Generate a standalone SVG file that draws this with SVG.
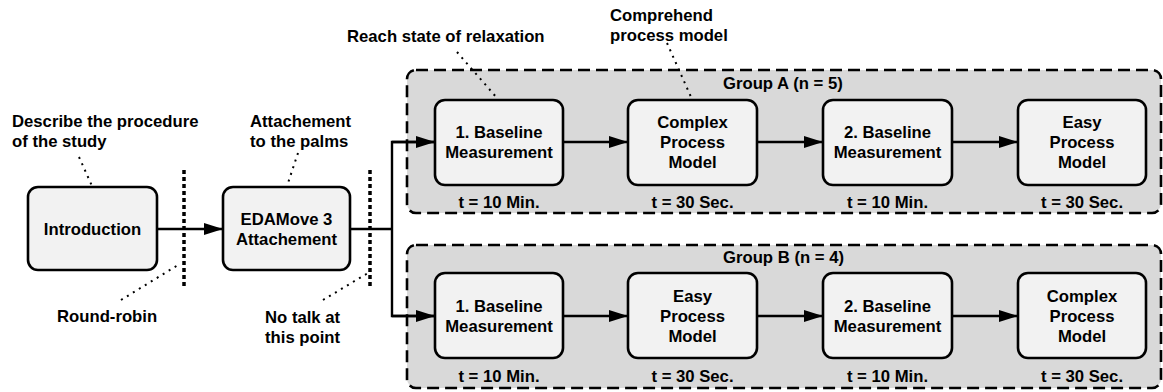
<svg xmlns="http://www.w3.org/2000/svg" width="1163" height="392" viewBox="0 0 1163 392">
<style>
text{font-family:"Liberation Sans",Arial,sans-serif;font-weight:bold;font-size:16.7px;fill:#000}
.c{text-anchor:middle}
.box{fill:#f2f2f2;stroke:#000;stroke-width:2.6}
.grp{fill:#d9d9d9;stroke:#000;stroke-width:2.6;stroke-dasharray:12 6}
.ln{fill:none;stroke:#000;stroke-width:2.4}
.dot{fill:none;stroke:#000;stroke-width:2;stroke-dasharray:2 5}
.sep{fill:none;stroke:#000;stroke-width:3.5;stroke-dasharray:4 3}
</style>
<defs>
<marker id="ah" markerWidth="19" markerHeight="12" refX="19" refY="6" orient="auto" markerUnits="userSpaceOnUse">
<path d="M0,0 L19,6 L0,12 Z" fill="#000"/>
</marker>
</defs>
<g id="groupA"><rect class="grp" x="407" y="70" width="754" height="143" rx="9"/><text x="723" y="89">Group A (n = 5)</text></g>
<g id="groupB"><rect class="grp" x="407" y="245" width="754" height="143" rx="9"/><text x="723" y="263">Group B (n = 4)</text></g>
<g id="connectors">
<line class="ln" x1="157" y1="229" x2="223" y2="229" marker-end="url(#ah)"/>
<polyline class="ln" points="350,229 392,229"/>
<polyline class="ln" points="435,142 392,142 392,316 435,316"/>
<line class="ln" x1="392" y1="142" x2="435" y2="142" marker-end="url(#ah)"/>
<line class="ln" x1="392" y1="316" x2="435" y2="316" marker-end="url(#ah)"/>
<line class="ln" x1="563" y1="142" x2="628" y2="142" marker-end="url(#ah)"/>
<line class="ln" x1="757" y1="142" x2="823" y2="142" marker-end="url(#ah)"/>
<line class="ln" x1="952" y1="142" x2="1018" y2="142" marker-end="url(#ah)"/>
<line class="ln" x1="563" y1="316" x2="628" y2="316" marker-end="url(#ah)"/>
<line class="ln" x1="757" y1="316" x2="823" y2="316" marker-end="url(#ah)"/>
<line class="ln" x1="952" y1="316" x2="1018" y2="316" marker-end="url(#ah)"/>
</g>
<g id="separators">
<line class="sep" x1="184" y1="170" x2="184" y2="288"/>
<line class="sep" x1="370" y1="170" x2="370" y2="288"/>
</g>
<g id="leaders">
<line class="dot" x1="79" y1="157" x2="92" y2="186"/>
<line class="dot" x1="121" y1="300" x2="178" y2="265"/>
<line class="dot" x1="298" y1="153" x2="287" y2="186"/>
<line class="dot" x1="323" y1="300" x2="368" y2="273"/>
<line class="dot" x1="457" y1="52" x2="497" y2="98"/>
<line class="dot" x1="667" y1="43" x2="691" y2="97"/>
</g>
<g id="intro"><rect class="box" x="28" y="187" width="129" height="83" rx="10"/><text class="c" x="92.5" y="235">Introduction</text></g>
<g id="edamove"><rect class="box" x="223" y="187" width="127" height="83" rx="10"/><text class="c" x="286.5" y="225">EDAMove 3</text><text class="c" x="286.5" y="245">Attachement</text></g>
<g id="a1"><rect class="box" x="435" y="100" width="128" height="85" rx="10"/><text class="c" x="499" y="138">1. Baseline</text><text class="c" x="499" y="158">Measurement</text><text class="c" x="499" y="208">t = 10 Min.</text></g>
<g id="a2"><rect class="box" x="628" y="100" width="129" height="85" rx="10"/><text class="c" x="692.5" y="128">Complex</text><text class="c" x="692.5" y="148">Process</text><text class="c" x="692.5" y="168">Model</text><text class="c" x="692.5" y="208">t = 30 Sec.</text></g>
<g id="a3"><rect class="box" x="823" y="100" width="129" height="85" rx="10"/><text class="c" x="887.5" y="138">2. Baseline</text><text class="c" x="887.5" y="158">Measurement</text><text class="c" x="887.5" y="208">t = 10 Min.</text></g>
<g id="a4"><rect class="box" x="1018" y="100" width="128" height="85" rx="10"/><text class="c" x="1082" y="128">Easy</text><text class="c" x="1082" y="148">Process</text><text class="c" x="1082" y="168">Model</text><text class="c" x="1082" y="208">t = 30 Sec.</text></g>
<g id="b1"><rect class="box" x="435" y="273" width="128" height="85" rx="10"/><text class="c" x="499" y="312">1. Baseline</text><text class="c" x="499" y="332">Measurement</text><text class="c" x="499" y="382">t = 10 Min.</text></g>
<g id="b2"><rect class="box" x="628" y="273" width="129" height="85" rx="10"/><text class="c" x="692.5" y="302">Easy</text><text class="c" x="692.5" y="322">Process</text><text class="c" x="692.5" y="342">Model</text><text class="c" x="692.5" y="382">t = 30 Sec.</text></g>
<g id="b3"><rect class="box" x="823" y="273" width="129" height="85" rx="10"/><text class="c" x="887.5" y="312">2. Baseline</text><text class="c" x="887.5" y="332">Measurement</text><text class="c" x="887.5" y="382">t = 10 Min.</text></g>
<g id="b4"><rect class="box" x="1018" y="273" width="128" height="85" rx="10"/><text class="c" x="1082" y="302">Complex</text><text class="c" x="1082" y="322">Process</text><text class="c" x="1082" y="342">Model</text><text class="c" x="1082" y="382">t = 30 Sec.</text></g>
<g id="annotations">
<text x="12" y="127">Describe the procedure</text><text x="12" y="147">of the study</text>
<text x="57" y="322">Round-robin</text>
<text x="250" y="127">Attachement</text><text x="250" y="147">to the palms</text>
<text x="265" y="323">No talk at</text><text x="265" y="343">this point</text>
<text x="347" y="42">Reach state of relaxation</text>
<text x="610" y="21">Comprehend</text><text x="610" y="41">process model</text>
</g>
</svg>
